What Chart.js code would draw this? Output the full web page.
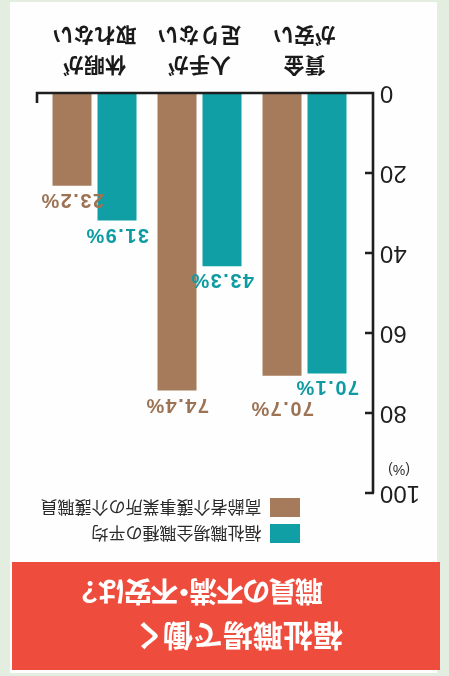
<!DOCTYPE html>
<html lang="ja">
<head>
<meta charset="utf-8">
<script src="https://cdn.jsdelivr.net/npm/chart.js@4/dist/chart.umd.min.js"></script>
<style>
  html, body { margin: 0; padding: 0; background: #e4eee0; overflow: hidden; }
  #page { position: relative; width: 449px; height: 676px; transform: rotate(180deg); transform-origin: 50% 50%; background: #e4eee0; }
  #panel { position: absolute; left: 12px; top: 3px; width: 427px; height: 671px; background: #fefefe; }
  #titlebox { position: absolute; left: 9px; top: 6px; width: 428px; height: 108px; background: #ee4c3c; color: #fff;
    font-family: 'Noto Sans CJK JP', sans-serif; font-weight: 700; }
  #titlebox span { position: absolute; white-space: nowrap; line-height: 34px; }
  #t1 { font-size: 30px; left: 97px; top: 15px; }
  #t2 { font-size: 28px; left: 117px; top: 60px; font-feature-settings: "palt" 1; letter-spacing: -1.5px; }
  #chartwrap { position: absolute; left: 0; top: 0; width: 449px; height: 676px; }
</style>
</head>
<body>
<div id="page">
  <div id="panel"></div>
  <div id="titlebox">
    <span id="t1">福祉職場で働く</span>
    <span id="t2">職員の不満・不安は？</span>
  </div>
  <div id="chartwrap"><canvas id="c" width="449" height="676"></canvas></div>
</div>
<script>
// ---- data ----
const categories = [['賃金', 'が安い'], ['人手が', '足りない'], ['休暇が', '取れない']];
const seriesNames = ['福祉職場全職種の平均', '高齢者介護事業所の介護職員'];
const allStaffAverage = [70.1, 43.3, 31.9];
const elderlyCareStaff = [70.7, 74.4, 23.2];
const yTicks = [0, 20, 40, 60, 80, 100];
const unitLabel = '(%)';

// ---- styles ----
const TEAL = '#0f9fa4';
const BROWN = '#a67b5b';
const TEAL_TEXT = '#0e9ca2';
const BROWN_TEXT = '#9c7455';

const decor = {
  id: 'decor',
  afterLayout(chart) {
    const lg = chart.legend;
    if (!lg) return;
    const ca = chart.chartArea;
    lg.left = ca.left + 50;
    lg.right = chart.width;
    lg.top = ca.top - 57;
    lg.bottom = lg.top + 80;
  },
  afterDatasetsDraw(chart) {
    const { ctx, chartArea, scales: { y } } = chart;
    const ax = chartArea.left - 16;
    const y0 = y.getPixelForValue(0);
    const yTop = y.getPixelForValue(yTicks[yTicks.length - 1]);
    const xEnd = chartArea.right + 5;
    ctx.save();
    ctx.strokeStyle = '#1e1e1e';
    ctx.lineWidth = 2.6;
    ctx.lineJoin = 'miter';
    ctx.lineCap = 'butt';
    ctx.beginPath();
    ctx.moveTo(ax, yTop);
    ctx.lineTo(ax, y0);
    ctx.lineTo(xEnd, y0);
    ctx.lineTo(xEnd, y0 - 10);
    ctx.stroke();
    ctx.beginPath();
    yTicks.forEach(v => {
      if (v === 0) return;
      const py = y.getPixelForValue(v);
      ctx.moveTo(ax - 1, py);
      ctx.lineTo(ax + 8, py);
    });
    ctx.stroke();
    // unit label
    ctx.fillStyle = '#333';
    ctx.font = '14px "Liberation Sans", sans-serif';
    ctx.textAlign = 'center';
    ctx.textBaseline = 'middle';
    ctx.fillText(unitLabel, ax - 26, y.getPixelForValue(94));
    // value labels (pushed up when they would collide)
    ctx.font = 'bold 20px "Liberation Sans", sans-serif';
    try { ctx.letterSpacing = '1.5px'; } catch (e) {}
    ctx.textBaseline = 'alphabetic';
    const placed = [];
    const capH = 15;
    chart.data.datasets.forEach((ds, di) => {
      const meta = chart.getDatasetMeta(di);
      meta.data.forEach((bar, i) => {
        const txt = ds.data[i].toFixed(1) + '%';
        const w = ctx.measureText(txt).width;
        let base = bar.y - 8;
        const x1 = bar.x - w / 2, x2 = bar.x + w / 2;
        let moved = true;
        while (moved) {
          moved = false;
          for (const p of placed) {
            const top = base - capH - 3, bot = base + 3;
            if (x1 < p.x2 && x2 > p.x1 && top < p.bot && bot > p.top) {
              base = p.top - 3;
              moved = true;
            }
          }
        }
        placed.push({ x1, x2, top: base - capH - 3, bot: base + 3 });
        ctx.fillStyle = di === 0 ? TEAL_TEXT : BROWN_TEXT;
        ctx.fillText(txt, bar.x, base);
      });
    });
    ctx.restore();
  }
};

new Chart(document.getElementById('c'), {
  type: 'bar',
  data: {
    labels: categories,
    datasets: [
      { label: seriesNames[0], data: allStaffAverage, backgroundColor: TEAL, borderWidth: 0 },
      { label: seriesNames[1], data: elderlyCareStaff, backgroundColor: BROWN, borderWidth: 0 }
    ]
  },
  options: {
    responsive: false,
    animation: false,
    devicePixelRatio: 1,
    categoryPercentage: 0.857,
    barPercentage: 0.867,
    layout: { padding: { top: 183, right: 42, bottom: 0, left: 0 } },
    plugins: {
      tooltip: { enabled: false },
      legend: {
        display: true,
        position: 'chartArea',
        align: 'start',
        labels: {
          boxWidth: 30,
          boxHeight: 19,
          padding: 7,
          color: '#2a2a2a',
          font: { family: "'Noto Sans CJK JP', sans-serif", size: 17 }
        }
      }
    },
    scales: {
      x: {
        grid: { display: false },
        border: { display: false },
        ticks: {
          color: '#1a1a1a',
          padding: 4,
          maxRotation: 0,
          autoSkip: false,
          font: { family: "'Noto Sans CJK JP', sans-serif", size: 21, weight: 'bold', lineHeight: 1.43 }
        },
        afterFit(s) { s.height = 93; }
      },
      y: {
        min: 0,
        max: 100,
        grid: { display: false, drawTicks: false },
        border: { display: false },
        ticks: {
          stepSize: 20,
          padding: 23,
          color: '#1e1e1e',
          font: { family: "'Liberation Sans', sans-serif", size: 24 },
          callback: (v) => yTicks.includes(v) ? String(v) : null
        },
        afterFit(s) { s.width = 92; }
      }
    }
  },
  plugins: [decor]
});
</script>
</body>
</html>
